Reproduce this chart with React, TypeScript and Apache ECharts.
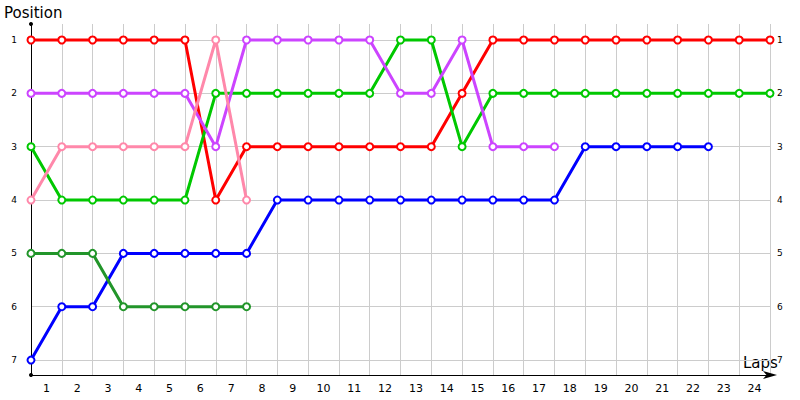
import React, { useEffect, useRef } from "react";
import * as echarts from "echarts";

// Lap labels (shown between grid lines)
const lapLabels = ["1", "2", "3", "4", "5", "6", "7", "8", "9", "10", "11", "12", "13", "14", "15", "16", "17", "18", "19", "20", "21", "22", "23", "24"];
const positionTicks = [1, 2, 3, 4, 5, 6, 7];

// Positions per lap index (0 = start)
const redPos = [1, 1, 1, 1, 1, 1, 4, 3, 3, 3, 3, 3, 3, 3, 2, 1, 1, 1, 1, 1, 1, 1, 1, 1, 1];
const greenPos = [3, 4, 4, 4, 4, 4, 2, 2, 2, 2, 2, 2, 1, 1, 3, 2, 2, 2, 2, 2, 2, 2, 2, 2, 2];
const purplePos = [2, 2, 2, 2, 2, 2, 3, 1, 1, 1, 1, 1, 2, 2, 1, 3, 3, 3];
const pinkPos = [4, 3, 3, 3, 3, 3, 1, 4];
const bluePos = [7, 6, 6, 5, 5, 5, 5, 5, 4, 4, 4, 4, 4, 4, 4, 4, 4, 4, 3, 3, 3, 3, 3];
const darkGreenPos = [5, 5, 5, 6, 6, 6, 6, 6];

const seriesDefs = [
  { name: "Red", color: "#ff0000", data: redPos },
  { name: "Green", color: "#00c800", data: greenPos },
  { name: "Purple", color: "#cc44ff", data: purplePos },
  { name: "Pink", color: "#ff88aa", data: pinkPos },
  { name: "Blue", color: "#0000ff", data: bluePos },
  { name: "DarkGreen", color: "#22952a", data: darkGreenPos },
];

const FONT = "DejaVu Sans";

export default function App() {
  const ref = useRef<HTMLDivElement>(null);
  useEffect(() => {
    if (!ref.current) return;
    const chart = echarts.init(ref.current, undefined, { renderer: "svg" });
    const yLabelFmt = (v: number) =>
      positionTicks.indexOf(Math.round(v * 1000) / 1000) >= 0 ? String(Math.round(v)) : "";
    chart.setOption({
      animation: false,
      backgroundColor: "#ffffff",
      grid: { left: 31, right: 30, top: 24, bottom: 25, containLabel: false },
      xAxis: [
        {
          type: "value",
          min: 0,
          max: 24,
          interval: 1,
          position: "bottom",
          axisLine: {
            show: true,
            lineStyle: { color: "#000", width: 1 },
            symbol: ["none", "arrow"],
            symbolSize: [6, 14],
            symbolOffset: [0, 7],
          },
          axisTick: { show: false },
          axisLabel: { show: false },
          splitLine: { show: true, showMinLine: false, lineStyle: { color: "#cccccc", width: 1 } },
        },
        {
          type: "category",
          data: lapLabels,
          boundaryGap: true,
          position: "bottom",
          axisLine: { show: false },
          axisTick: { show: false },
          splitLine: { show: false },
          axisLabel: { margin: 8, fontSize: 11, color: "#000", fontFamily: FONT },
        },
      ],
      yAxis: [
        {
          type: "value",
          inverse: true,
          min: 0.7,
          max: 7.28,
          minInterval: 1,
          maxInterval: 1,
          position: "left",
          axisLine: {
            show: true,
            lineStyle: { color: "#000", width: 1 },
            symbol: ["circle", "circle"],
            symbolSize: [4, 4],
          },
          axisTick: { show: false },
          axisLabel: { margin: 14, fontSize: 9, color: "#000", fontFamily: FONT, formatter: yLabelFmt },
          splitLine: {
            show: true,
            showMinLine: false,
            showMaxLine: false,
            lineStyle: { color: "#cccccc", width: 1 },
          },
        },
        {
          type: "value",
          inverse: true,
          min: 0.7,
          max: 7.28,
          minInterval: 1,
          maxInterval: 1,
          position: "right",
          axisLine: { show: false },
          axisTick: { show: false },
          axisLabel: { margin: 7, fontSize: 9, color: "#000", fontFamily: FONT, formatter: yLabelFmt },
          splitLine: { show: false },
        },
      ],
      graphic: [
        { type: "text", x: 4, y: 5, style: { text: "Position", font: `15px "${FONT}"`, fill: "#000" } },
        { type: "text", x: 743, y: 355, style: { text: "Laps", font: `15px "${FONT}"`, fill: "#000" } },
      ],
      series: seriesDefs.map((s, k) => ({
        name: s.name,
        type: "line",
        xAxisIndex: 0,
        yAxisIndex: 0,
        data: s.data.map((v, i) => [i, v]),
        symbol: "emptyCircle",
        symbolSize: 7,
        showAllSymbol: true,
        z: 2 + k,
        lineStyle: { color: s.color, width: 3 },
        itemStyle: { color: s.color, borderColor: s.color, borderWidth: 1.2 },
      })),
    });
    return () => chart.dispose();
  }, []);
  return (
    <div
      ref={ref}
      style={{ position: "absolute", left: 0, top: 0, width: 800, height: 400 }}
    />
  );
}
